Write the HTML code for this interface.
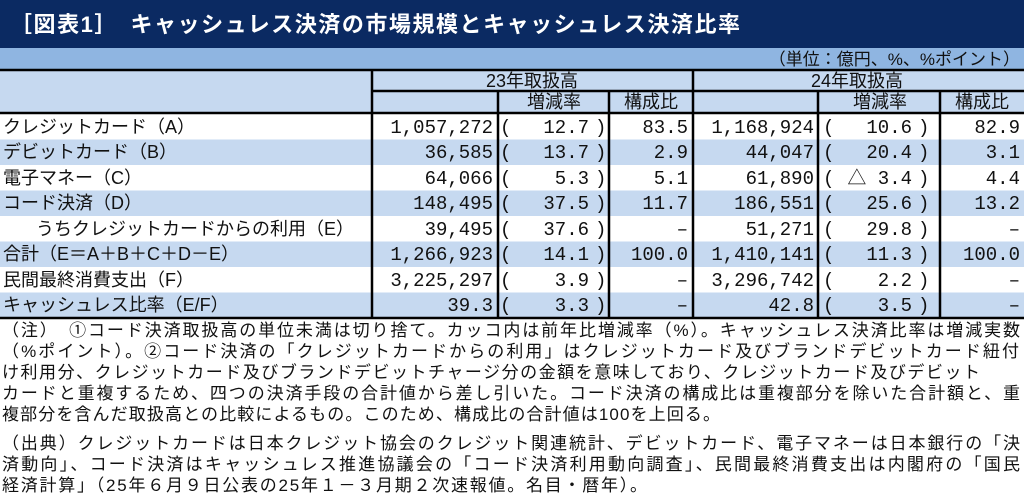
<!DOCTYPE html>
<html><head><meta charset="utf-8"><style>
html,body{margin:0;padding:0;background:#fff;}
svg{display:block;}
text{font-family:"Liberation Sans","Noto Sans CJK JP",sans-serif;fill:#111;}
.n{font-family:"Liberation Mono","Noto Sans CJK JP",monospace;font-size:19px;}
.l{font-size:18px;}
.t{font-size:17px;}
</style></head><body>
<svg width="1024" height="493" viewBox="0 0 1024 493" xmlns="http://www.w3.org/2000/svg">
<rect x="0" y="0" width="1024" height="48" fill="#0b2a62"/>
<text x="10" y="32" style="font-size:22px;font-weight:bold;fill:#fff" textLength="730" lengthAdjust="spacing">［図表1］　キャッシュレス決済の市場規模とキャッシュレス決済比率</text>
<rect x="0" y="48" width="1024" height="22" fill="#8fb5e1"/>
<text x="1020" y="65" text-anchor="end" class="t">（単位：億円、%、%ポイント）</text>
<rect x="0" y="70" width="1024" height="43" fill="#c6d9f0"/>
<g fill="#c6d9f0">
<rect x="0" y="139.5" width="1024" height="25.5"/>
<rect x="0" y="190.5" width="1024" height="25.5"/>
<rect x="0" y="241.5" width="1024" height="25.5"/>
<rect x="0" y="292.5" width="1024" height="25.5"/>
</g>
<g stroke="#000" stroke-width="2.5">
<line x1="0" y1="70" x2="1024" y2="70"/>
<line x1="372" y1="91" x2="1024" y2="91"/>
<line x1="0" y1="113" x2="1024" y2="113"/>
<line x1="0" y1="318" x2="1024" y2="318"/>
<line x1="372" y1="70" x2="372" y2="318"/>
<line x1="693" y1="70" x2="693" y2="318"/>
<line x1="498" y1="91" x2="498" y2="318"/>
<line x1="609" y1="91" x2="609" y2="318"/>
<line x1="818" y1="91" x2="818" y2="318"/>
<line x1="940" y1="91" x2="940" y2="318"/>
</g>
<g>
<text x="532" y="87" text-anchor="middle" class="l">23年取扱高</text>
<text x="857" y="87" text-anchor="middle" class="l">24年取扱高</text>
<text x="554" y="108" text-anchor="middle" class="l">増減率</text>
<text x="651" y="108" text-anchor="middle" class="l">構成比</text>
<text x="880" y="108" text-anchor="middle" class="l">増減率</text>
<text x="982" y="108" text-anchor="middle" class="l">構成比</text>
</g>
<g>
<text x="3" y="133" class="l">クレジットカード（A）</text>
<text x="3" y="158" class="l">デビットカード（B）</text>
<text x="3" y="184" class="l">電子マネー（C）</text>
<text x="3" y="209" class="l">コード決済（D）</text>
<text x="36" y="235" class="l">うちクレジットカードからの利用（E）</text>
<text x="3" y="260" class="l">合計（E＝A＋B＋C＋D－E）</text>
<text x="3" y="286" class="l">民間最終消費支出（F）</text>
<text x="3" y="311" class="l">キャッシュレス比率（E/F）</text>
</g>
<g class="n" text-anchor="end">
<text class="n" x="493" y="133">1,057,272</text>
<text class="n" x="493" y="158">36,585</text>
<text class="n" x="493" y="184">64,066</text>
<text class="n" x="493" y="209">148,495</text>
<text class="n" x="493" y="235">39,495</text>
<text class="n" x="493" y="260">1,266,923</text>
<text class="n" x="493" y="286">3,225,297</text>
<text class="n" x="493" y="311">39.3</text>

<text class="n" x="589" y="133">12.7</text>
<text class="n" x="589" y="158">13.7</text>
<text class="n" x="589" y="184">5.3</text>
<text class="n" x="589" y="209">37.5</text>
<text class="n" x="589" y="235">37.6</text>
<text class="n" x="589" y="260">14.1</text>
<text class="n" x="589" y="286">3.9</text>
<text class="n" x="589" y="311">3.3</text>

<text class="n" x="688" y="133">83.5</text>
<text class="n" x="688" y="158">2.9</text>
<text class="n" x="688" y="184">5.1</text>
<text class="n" x="688" y="209">11.7</text>
<text class="n" x="688" y="235">–</text>
<text class="n" x="688" y="260">100.0</text>
<text class="n" x="688" y="286">–</text>
<text class="n" x="688" y="311">–</text>

<text class="n" x="814" y="133">1,168,924</text>
<text class="n" x="814" y="158">44,047</text>
<text class="n" x="814" y="184">61,890</text>
<text class="n" x="814" y="209">186,551</text>
<text class="n" x="814" y="235">51,271</text>
<text class="n" x="814" y="260">1,410,141</text>
<text class="n" x="814" y="286">3,296,742</text>
<text class="n" x="814" y="311">42.8</text>

<text class="n" x="912" y="133">10.6</text>
<text class="n" x="912" y="158">20.4</text>
<text class="n" x="912" y="184">△ 3.4</text>
<text class="n" x="912" y="209">25.6</text>
<text class="n" x="912" y="235">29.8</text>
<text class="n" x="912" y="260">11.3</text>
<text class="n" x="912" y="286">2.2</text>
<text class="n" x="912" y="311">3.5</text>

<text class="n" x="1020" y="133">82.9</text>
<text class="n" x="1020" y="158">3.1</text>
<text class="n" x="1020" y="184">4.4</text>
<text class="n" x="1020" y="209">13.2</text>
<text class="n" x="1020" y="235">–</text>
<text class="n" x="1020" y="260">100.0</text>
<text class="n" x="1020" y="286">–</text>
<text class="n" x="1020" y="311">–</text>
</g>
<g class="n">
<text class="n" x="500" y="133">(</text><text class="n" x="595" y="133">)</text><text class="n" x="823" y="133">(</text><text class="n" x="918" y="133">)</text>
<text class="n" x="500" y="158">(</text><text class="n" x="595" y="158">)</text><text class="n" x="823" y="158">(</text><text class="n" x="918" y="158">)</text>
<text class="n" x="500" y="184">(</text><text class="n" x="595" y="184">)</text><text class="n" x="823" y="184">(</text><text class="n" x="918" y="184">)</text>
<text class="n" x="500" y="209">(</text><text class="n" x="595" y="209">)</text><text class="n" x="823" y="209">(</text><text class="n" x="918" y="209">)</text>
<text class="n" x="500" y="235">(</text><text class="n" x="595" y="235">)</text><text class="n" x="823" y="235">(</text><text class="n" x="918" y="235">)</text>
<text class="n" x="500" y="260">(</text><text class="n" x="595" y="260">)</text><text class="n" x="823" y="260">(</text><text class="n" x="918" y="260">)</text>
<text class="n" x="500" y="286">(</text><text class="n" x="595" y="286">)</text><text class="n" x="823" y="286">(</text><text class="n" x="918" y="286">)</text>
<text class="n" x="500" y="311">(</text><text class="n" x="595" y="311">)</text><text class="n" x="823" y="311">(</text><text class="n" x="918" y="311">)</text>
</g>
<g>
<text class="t" x="2" y="336" textLength="1018" lengthAdjust="spacing">（注）　①コード決済取扱高の単位未満は切り捨て。カッコ内は前年比増減率（%）。キャッシュレス決済比率は増減実数</text>
<text class="t" x="2" y="357" textLength="1017" lengthAdjust="spacing">（%ポイント）。②コード決済の「クレジットカードからの利用」はクレジットカード及びブランドデビットカード紐付</text>
<text class="t" x="2" y="378" textLength="978" lengthAdjust="spacing">け利用分、クレジットカード及びブランドデビットチャージ分の金額を意味しており、クレジットカード及びデビット</text>
<text class="t" x="2" y="399" textLength="1018" lengthAdjust="spacing">カードと重複するため、四つの決済手段の合計値から差し引いた。コード決済の構成比は重複部分を除いた合計額と、重</text>
<text class="t" x="2" y="420" textLength="718" lengthAdjust="spacing">複部分を含んだ取扱高との比較によるもの。このため、構成比の合計値は100を上回る。</text>
<text class="t" x="2" y="449" textLength="1018" lengthAdjust="spacing">（出典）クレジットカードは日本クレジット協会のクレジット関連統計、デビットカード、電子マネーは日本銀行の「決</text>
<text class="t" x="2" y="470" textLength="1018" lengthAdjust="spacing">済動向」、コード決済はキャッシュレス推進協議会の「コード決済利用動向調査」、民間最終消費支出は内閣府の「国民</text>
<text class="t" x="2" y="491" textLength="645" lengthAdjust="spacing">経済計算」（25年６月９日公表の25年１－３月期２次速報値。名目・暦年）。</text>
</g>
</svg>
</body></html>
